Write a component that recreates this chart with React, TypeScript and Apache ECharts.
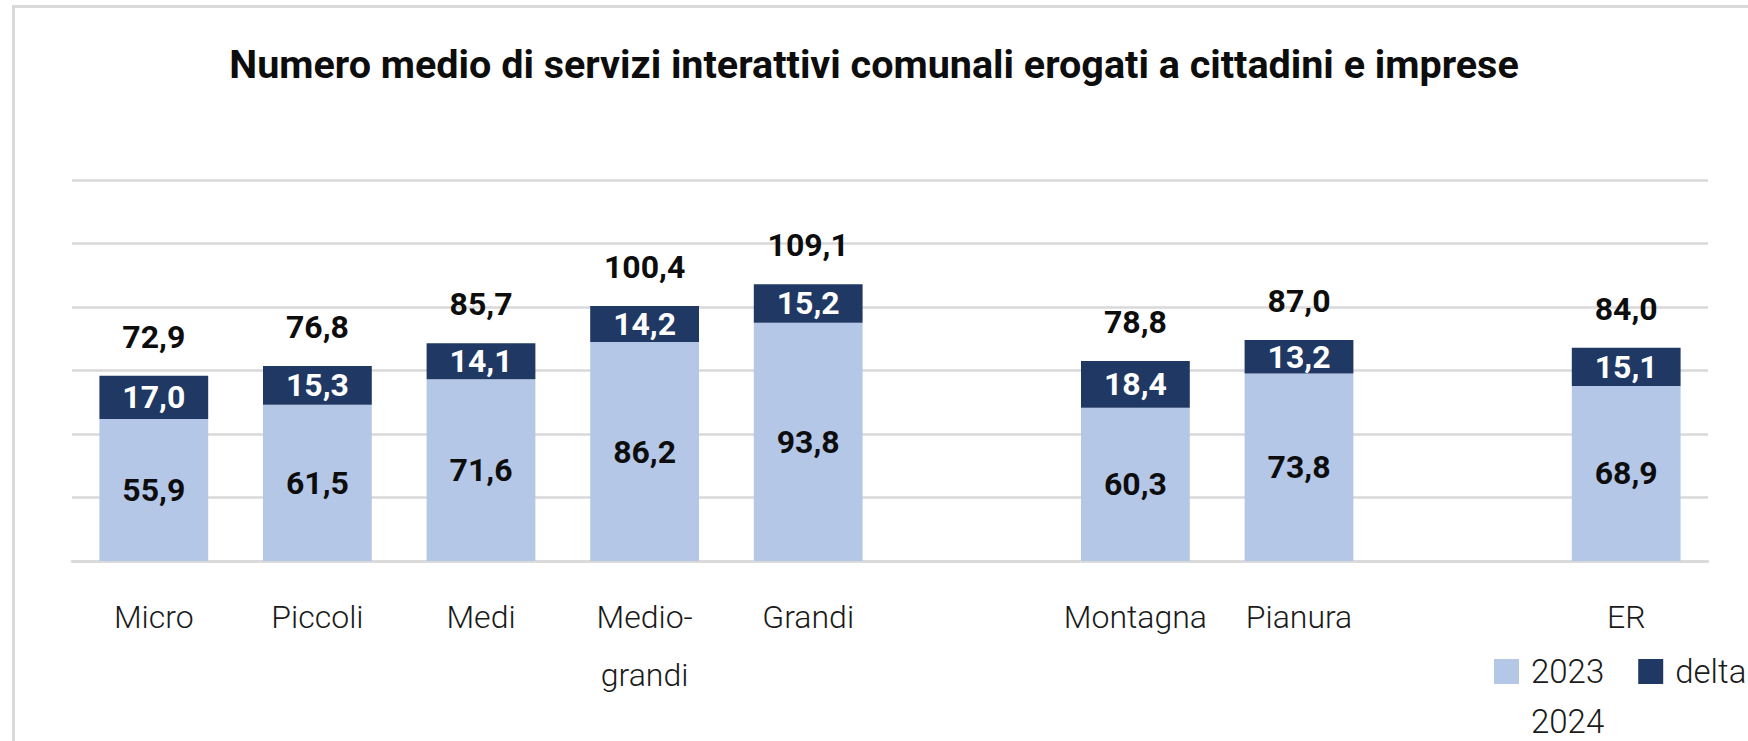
import React, { useEffect, useRef } from "react";
import * as echarts from "echarts";

const categorie = ["Micro", "Piccoli", "Medi", "Medio-\ngrandi", "Grandi", "", "Montagna", "Pianura", "", "ER"];
const valori2023 = [55.9, 61.5, 71.6, 86.2, 93.8, null, 60.3, 73.8, null, 68.9];
const delta2024 = [17.0, 15.3, 14.1, 14.2, 15.2, null, 18.4, 13.2, null, 15.1];
const totale2024 = [72.9, 76.8, 85.7, 100.4, 109.1, null, 78.8, 87.0, null, 84.0];
const asseYMin = 0;
const asseYMax = 150;
const asseYPasso = 25;
const titolo = "Numero medio di servizi interattivi comunali erogati a cittadini e imprese";

const FONT = "Roboto, 'Liberation Sans', sans-serif";
const fmt = (v: number) => v.toFixed(1).replace(".", ",");

export default function App() {
  const ref = useRef<HTMLDivElement>(null);
  useEffect(() => {
    if (!ref.current) return;
    const chart = echarts.init(ref.current, undefined, { renderer: "svg" });
    chart.setOption({
      animation: false,
      backgroundColor: "#ffffff",
      textStyle: { fontFamily: FONT },
      title: {
        text: titolo,
        left: "center",
        top: 44,
        padding: 0,
        textStyle: { fontFamily: FONT, fontWeight: "bold", fontSize: 39.5, color: "#0d0d0d" },
      },
      graphic: [
        {
          type: "rect",
          silent: true,
          shape: { x: 13.5, y: 6.5, width: 1760, height: 760 },
          style: { fill: "none", stroke: "#d9d9d9", lineWidth: 3 },
        },
      ],
      legend: [
        {
          data: ["2023", "delta"],
          left: 1494,
          top: 655,
          padding: 0,
          itemWidth: 25,
          itemHeight: 25,
          itemGap: 34,
          icon: "rect",
          textStyle: { fontFamily: FONT, fontSize: 33, color: "#1a1a1a", fontWeight: 300, padding: [0, 0, 0, 7] },
        },
        {
          data: [{ name: "2024", itemStyle: { color: "rgba(0,0,0,0)" } }],
          left: 1494,
          top: 705,
          padding: 0,
          itemWidth: 25,
          itemHeight: 25,
          icon: "rect",
          textStyle: { fontFamily: FONT, fontSize: 33, color: "#1a1a1a", fontWeight: 300, padding: [0, 0, 0, 7] },
        },
      ],
      grid: { left: 72, right: 40, top: 180, bottom: 180, containLabel: false },
      xAxis: {
        type: "category",
        data: categorie,
        axisTick: { show: false },
        axisLine: { lineStyle: { color: "#d9d9d9", width: 2.5 } },
        axisLabel: {
          interval: 0,
          margin: 27,
          fontFamily: FONT,
          fontSize: 32,
          fontWeight: 300,
          lineHeight: 58,
          color: "#1a1a1a",
        },
      },
      yAxis: {
        type: "value",
        min: asseYMin,
        max: asseYMax,
        interval: asseYPasso,
        axisLabel: { show: false },
        axisLine: { show: false },
        axisTick: { show: false },
        splitLine: { lineStyle: { color: "#d9d9d9", width: 2.5 } },
      },
      series: [
        {
          name: "2023",
          type: "bar",
          stack: "tot",
          barWidth: "66.5%",
          data: valori2023,
          itemStyle: { color: "#b4c7e7" },
          label: {
            show: true,
            position: "inside",
            formatter: (p: any) => fmt(p.value),
            fontFamily: FONT,
            fontWeight: "bold",
            fontSize: 32,
            color: "#0d0d0d",
          },
        },
        {
          name: "delta",
          type: "bar",
          stack: "tot",
          barWidth: "66.5%",
          data: delta2024,
          itemStyle: { color: "#203864" },
          label: {
            show: true,
            position: "inside",
            formatter: (p: any) => fmt(p.value),
            fontFamily: FONT,
            fontWeight: "bold",
            fontSize: 32,
            color: "#ffffff",
          },
        },
        {
          name: "2024",
          type: "scatter",
          data: totale2024,
          symbolSize: 1,
          itemStyle: { color: "rgba(0,0,0,0)", opacity: 1 },
          label: {
            show: true,
            position: "inside",
            offset: [0, -39],
            formatter: (p: any) => fmt(p.value),
            fontFamily: FONT,
            fontWeight: "bold",
            fontSize: 32,
            color: "#0d0d0d",
          },
        },
      ],
    });
    return () => chart.dispose();
  }, []);
  return (
    <div
      ref={ref}
      style={{ position: "fixed", left: 0, top: 0, width: 1748, height: 741, background: "#fff" }}
    />
  );
}
